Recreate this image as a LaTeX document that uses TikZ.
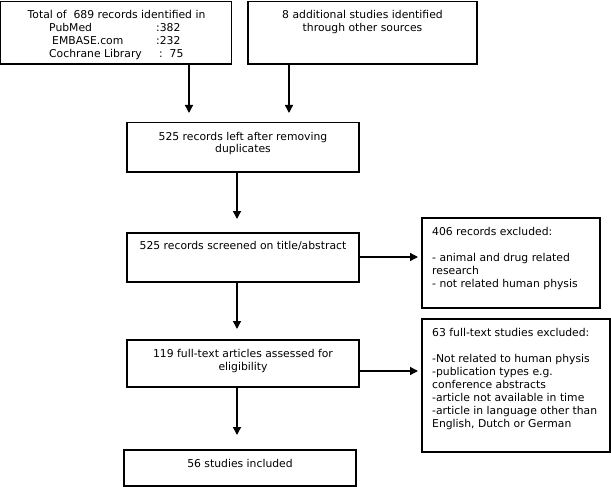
\documentclass[tikz,border=0pt]{standalone}
\usepackage{fontspec}
\setmainfont{DejaVu Sans}
\usetikzlibrary{arrows.meta}
\begin{document}
\begin{tikzpicture}[x=1pt,y=-1pt,
  box/.style={draw=black, line width=1.3pt, inner sep=0pt, outer sep=0pt, anchor=north west},
  txt/.style={font=\fontsize{10.8}{13}\selectfont, inner sep=0pt, text=black},
  arr/.style={-{Triangle[length=8pt,width=8pt]}, line width=1.3pt, draw=black}]
\useasboundingbox (0,0) rectangle (611,487);
% boxes
\node[box, minimum width=231pt, minimum height=62.5pt] (b1) at (0.7,1.5) {};
\node[box, minimum width=229pt, minimum height=62.5pt] (b2) at (248,1.5) {};
\node[box, minimum width=232pt, minimum height=49.5pt] (b3) at (127,122.5) {};
\node[box, minimum width=232pt, minimum height=49pt] (b4) at (127,233) {};
\node[box, minimum width=178pt, minimum height=90pt] (b5) at (422,218) {};
\node[box, minimum width=232pt, minimum height=47pt] (b6) at (127,340) {};
\node[box, minimum width=188pt, minimum height=133pt] (b7) at (422,319) {};
\node[box, minimum width=232pt, minimum height=36pt] (b8) at (124,450) {};
% texts (multi-line nodes: base = baseline of last line)
\node[txt, anchor=base] (t1) at (116.5,19) {Total of\ \ 689 records identified in};
\node[txt, anchor=base west, align=left] (t1b) at (49,58)
  {\makebox[107pt][l]{PubMed}:382\\\hspace*{3pt}\makebox[104pt][l]{EMBASE.com}:232\\\makebox[110pt][l]{Cochrane Library}:\ \ 75};
\node[txt, anchor=base, align=center] (t2) at (362.5,32) {8 additional studies identified\\through other sources};
\node[txt, anchor=base, align=center] (t3) at (243,153) {525 records left after removing\\duplicates};
\node[txt, anchor=base] (t4) at (243,249) {525 records screened on title/abstract};
\node[txt, anchor=base west, align=left] (t5) at (432,287)
  {406 records excluded:\\[13pt]- animal and drug related\\research\\- not related human physis};
\node[txt, anchor=base, align=center] (t6) at (243,370) {119 full-text articles assessed for\\eligibility};
\node[txt, anchor=base west, align=left] (t7) at (432,427)
  {63 full-text studies excluded:\\[13pt]-Not related to human physis\\-publication types e.g.\\conference abstracts\\-article not available in time\\-article in language other than\\English, Dutch or German};
\node[txt, anchor=base] (t8) at (240,467) {56 studies included};
% connectors
\coordinate (c1) at (189,0);
\coordinate (c2) at (289,0);
\coordinate (c3) at (237,0);
\coordinate (c4) at (0,371);
\coordinate (c5) at (0,257);
\draw[arr, shorten >=9.5pt] (b1.south -| c1) -- (b3.north -| c1);
\draw[arr, shorten >=9.5pt] (b2.south -| c2) -- (b3.north -| c2);
\draw[arr, shorten >=14pt] (b3.south -| c3) -- (b4.north -| c3);
\draw[arr, shorten >=11pt] (b4.south -| c3) -- (b6.north -| c3);
\draw[arr, shorten >=15pt] (b6.south -| c3) -- (b8.north -| c3);
\draw[arr, shorten >=4pt] (b4.east |- c5) -- (b5.west |- c5);
\draw[arr, shorten >=4pt] (b6.east |- c4) -- (b7.west |- c4);
\end{tikzpicture}
\end{document}
